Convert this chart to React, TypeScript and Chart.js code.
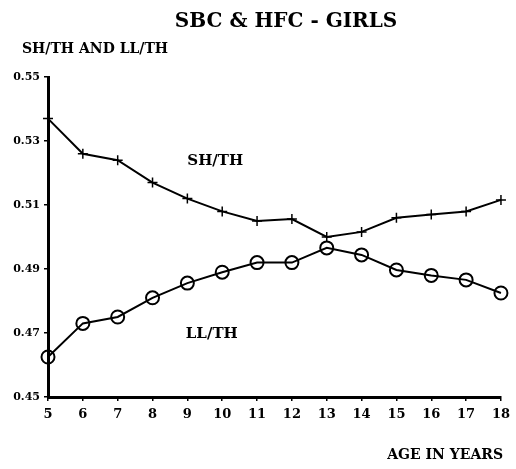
import React, { useEffect, useRef } from "react";
import { Chart, registerables } from "chart.js";

Chart.register(...registerables);

const ages = ["5", "6", "7", "8", "9", "10", "11", "12", "13", "14", "15", "16", "17", "18"];
const shTh = [0.537, 0.526, 0.524, 0.517, 0.512, 0.508, 0.505, 0.5056, 0.5, 0.5016, 0.506, 0.507, 0.508, 0.5116];
const llTh = [0.4625, 0.473, 0.475, 0.481, 0.4856, 0.489, 0.492, 0.492, 0.4966, 0.4944, 0.4897, 0.488, 0.4866, 0.4825];
const yTicks = [0.45, 0.47, 0.49, 0.51, 0.53, 0.55];
const chartTitle = "SBC & HFC - GIRLS";
const yTitle = "SH/TH AND LL/TH";
const xTitle = "AGE IN YEARS";
const seriesNames = ["SH/TH", "LL/TH"];
// label anchors in data units: [category index (fractional), value]
const seriesLabelAnchors = [
  [4.8, 0.5238],
  [4.7, 0.4697],
];

const FONT = "'DejaVu Serif', 'Liberation Serif', serif";

const textPlugin = {
  id: "texts",
  afterDraw(chart: any) {
    const ctx = chart.ctx;
    const x = chart.scales.x;
    const y = chart.scales.y;
    ctx.save();
    ctx.fillStyle = "#000";
    ctx.textBaseline = "alphabetic";
    ctx.font = `bold 20px ${FONT}`;
    ctx.textAlign = "center";
    ctx.fillText(chartTitle, 286, 27);
    ctx.font = `bold 14px ${FONT}`;
    ctx.textAlign = "left";
    ctx.fillText(yTitle, 22, 53);
    ctx.textAlign = "right";
    ctx.font = `bold 14px ${FONT}`;
    ctx.fillText(xTitle, 503, 459);
    ctx.font = `bold 15px ${FONT}`;
    ctx.textAlign = "center";
    ctx.textBaseline = "middle";
    seriesNames.forEach((name, i) => {
      const [xi, yv] = seriesLabelAnchors[i];
      ctx.fillText(name, x.getPixelForValue(xi), y.getPixelForValue(yv));
    });
    ctx.restore();
  },
};

export default function App() {
  const ref = useRef<HTMLCanvasElement | null>(null);
  useEffect(() => {
    if (!ref.current) return;
    const chart = new Chart(ref.current, {
      type: "line",
      data: {
        labels: ages,
        datasets: [
          {
            label: seriesNames[0],
            data: shTh,
            borderColor: "#000",
            backgroundColor: "#000",
            borderWidth: 2,
            pointStyle: "cross",
            pointRadius: 5,
            pointBorderWidth: 1.5,
            pointBorderColor: "#000",
            tension: 0,
          },
          {
            label: seriesNames[1],
            data: llTh,
            borderColor: "#000",
            backgroundColor: "rgba(0,0,0,0)",
            borderWidth: 2,
            pointStyle: "circle",
            pointRadius: 6.5,
            pointBorderWidth: 2,
            pointBorderColor: "#000",
            pointBackgroundColor: "rgba(0,0,0,0)",
            tension: 0,
          },
        ],
      },
      options: {
        responsive: false,
        animation: false,
        layout: { padding: { left: 0, top: 77, right: 15, bottom: 0 } },
        plugins: {
          legend: { display: false },
          title: { display: false },
          tooltip: { enabled: false },
        },
        scales: {
          x: {
            offset: false,
            grid: { drawOnChartArea: false, drawTicks: true, tickLength: 4, color: "#000", lineWidth: 1.5 },
            border: { display: true, color: "#000", width: 3 },
            ticks: {
              color: "#000",
              padding: 6,
              maxRotation: 0,
              autoSkip: false,
              font: { family: FONT, size: 13, weight: "bold" },
            },
            afterFit: (s: any) => {
              s.height = 72;
            },
          },
          y: {
            min: yTicks[0],
            max: yTicks[yTicks.length - 1],
            grid: { drawOnChartArea: false, drawTicks: true, tickLength: 4, color: "#000", lineWidth: 1.5 },
            border: { display: true, color: "#000", width: 3 },
            afterBuildTicks: (s: any) => {
              s.ticks = yTicks.map((v) => ({ value: v }));
            },
            ticks: {
              color: "#000",
              padding: 4,
              callback: (v: any) => Number(v).toFixed(2),
              font: { family: FONT, size: 11, weight: "bold" },
            },
            afterFit: (s: any) => {
              s.width = 48;
            },
          },
        },
      },
      plugins: [textPlugin],
    });
    return () => chart.destroy();
  }, []);
  return (
    <div style={{ position: "fixed", left: 0, top: 0, width: 516, height: 469, background: "#fff" }}>
      <canvas ref={ref} width={516} height={469} style={{ display: "block" }} />
    </div>
  );
}
